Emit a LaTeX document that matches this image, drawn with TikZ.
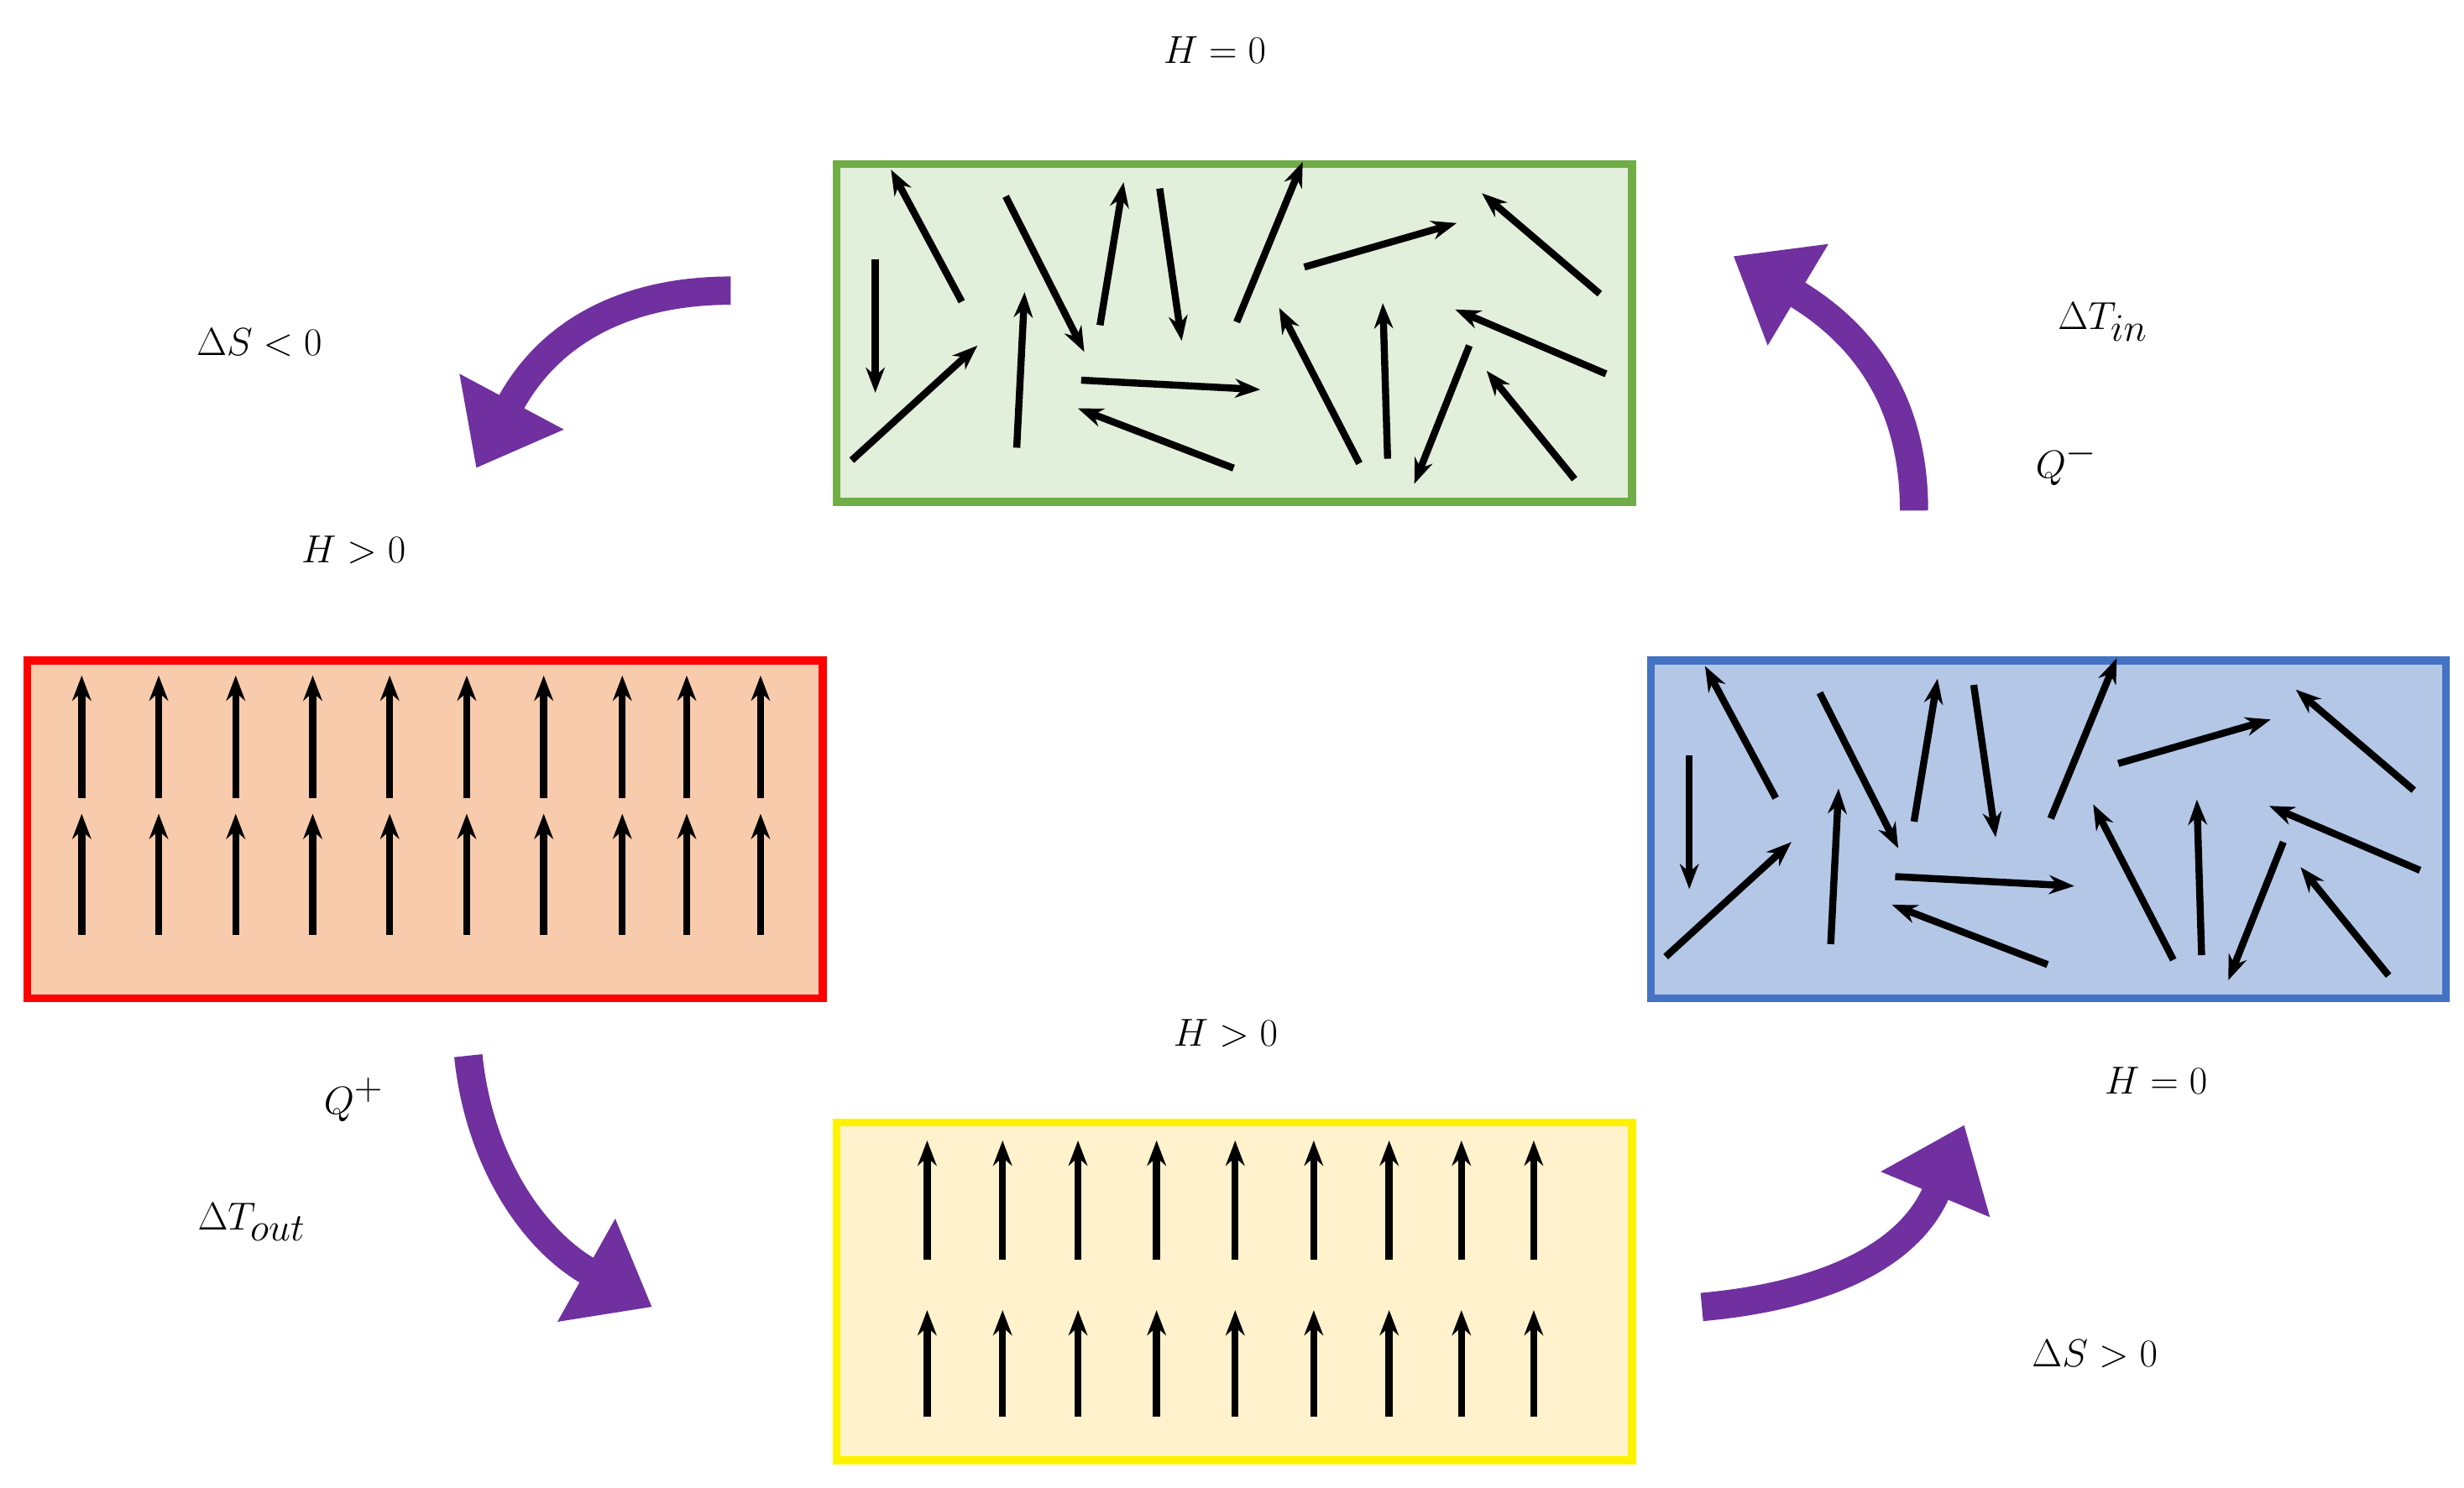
\documentclass[tikz,border=0pt]{standalone}
\usetikzlibrary{arrows.meta}
\begin{document}
\begin{tikzpicture}[x=1pt,y=-1pt,
  spin/.style={line width=4.5pt,-{Stealth[length=16pt,width=12pt]}},
  cyc/.style={draw=cycpurple,line width=18pt,-{Triangle[length=48pt,width=72pt]}},
  lab/.style={font=\fontsize{44}{52}\selectfont,inner sep=0},
  box/.style={line width=5pt,minimum width=506pt,minimum height=215pt,anchor=north west,inner sep=0}]
\definecolor{cycpurple}{HTML}{7030A0}
\definecolor{gbord}{HTML}{70AD47}
\useasboundingbox (0,0) rectangle (1568,947);
\node[box,draw=gbord,fill={rgb,255:red,226;green,239;blue,218}] (green) at (530,102) {};
\node[box,draw=red,fill={rgb,255:red,248;green,203;blue,173}] (red) at (15,418) {};
\node[box,draw={rgb,255:red,68;green,114;blue,196},fill={rgb,255:red,180;green,199;blue,231}] (blue) at (1048,418) {};
\node[box,draw=yellow,fill={rgb,255:red,255;green,242;blue,204}] (yellow) at (530,712) {};
\foreach \x in {52,101,150,199,248,297,346,396,437,484}{
  \draw[spin] (\x,508) -- (\x,430);
  \draw[spin] (\x,595) -- (\x,518);}
\foreach \x in {590,638,686,736,786,836,884,930,976}{
  \draw[spin] (\x,802) -- (\x,726);
  \draw[spin] (\x,902) -- (\x,834);}
\foreach \sx/\sy in {0/0,518/316}{
\begin{scope}[shift={(\sx,\sy)}]
  \draw[spin] (557,165) -- (557,250);
  \draw[spin] (612,192) -- (567,108);
  \draw[spin] (542,293) -- (622,220);
  \draw[spin] (640,125) -- (690,224);
  \draw[spin] (647,285) -- (652,186);
  \draw[spin] (700,207) -- (715,116);
  \draw[spin] (738,120) -- (752,217);
  \draw[spin] (787,205) -- (829,103);
  \draw[spin] (830,170) -- (927,142);
  \draw[spin] (1018,187) -- (943,123);
  \draw[spin] (688,242) -- (802,248);
  \draw[spin] (785,298) -- (686,260);
  \draw[spin] (865,295) -- (814,196);
  \draw[spin] (883,292) -- (880,193);
  \draw[spin] (935,220) -- (900,308);
  \draw[spin] (1022,238) -- (926,197);
  \draw[spin] (1002,305) -- (946,236);
\end{scope}}
\coordinate (a1) at (465,185); \coordinate (b1) at (303,298);
\coordinate (a2) at (1218,325); \coordinate (b2) at (1103,163);
\coordinate (a3) at (298,672); \coordinate (b3) at (415,832);
\coordinate (a4) at (1083,832); \coordinate (b4) at (1250,716);
\draw[cyc] (a1) .. controls (400,185) and (350,210) .. (b1);
\draw[cyc] (a2) .. controls (1218,260) and (1190,215) .. (b2);
\draw[cyc] (a3) .. controls (305,740) and (340,790) .. (b3);
\draw[cyc] (a4) .. controls (1160,825) and (1215,800) .. (b4);
\node[lab] (t1) at (773,32) {$H=0$};
\node[lab] (t2) at (165,218) {$\Delta S<0$};
\node[lab] (t3) at (225,350) {$H>0$};
\node[lab] (t4) at (1338,205) {$\Delta T_{in}$};
\node[lab] (t5) at (1315,295) {$Q^{-}$};
\node[lab] (t6) at (1372,688) {$H=0$};
\node[lab] (t7) at (780,658) {$H>0$};
\node[lab] (t8) at (225,700) {$Q^{+}$};
\node[lab] (t9) at (160,778) {$\Delta T_{out}$};
\node[lab] (t10) at (1333,862) {$\Delta S>0$};
\end{tikzpicture}
\end{document}
